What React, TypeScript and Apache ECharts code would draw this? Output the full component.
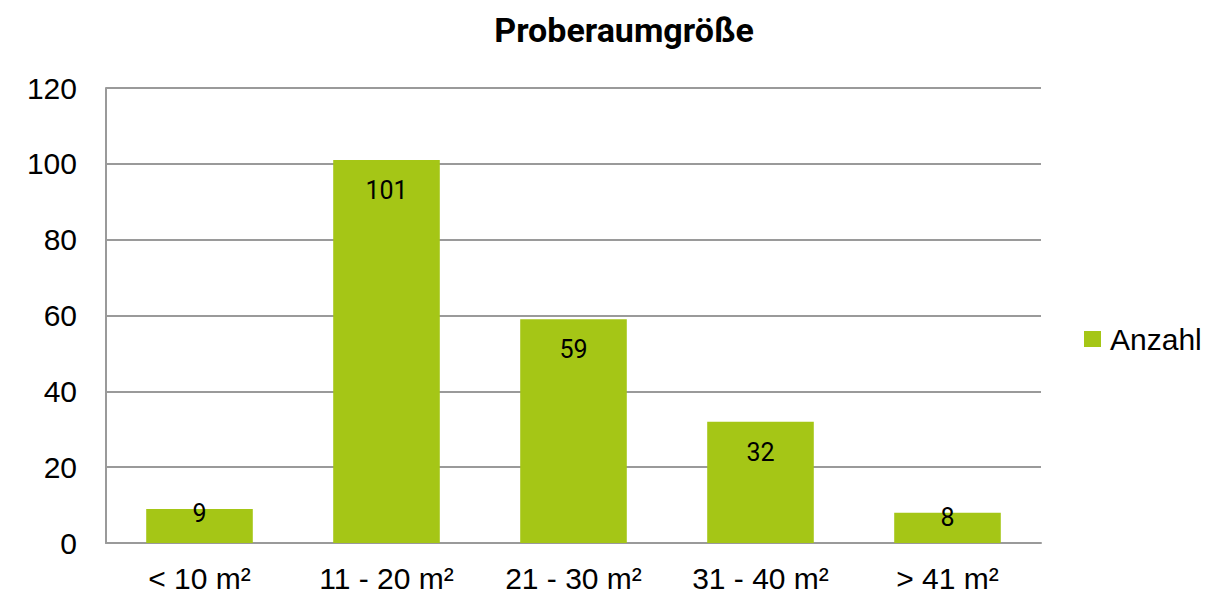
import React, { useEffect, useRef } from "react";
import * as echarts from "echarts";

const categories = ["< 10 m²", "11 - 20 m²", "21 - 30 m²", "31 - 40 m²", "> 41 m²"];
const anzahl = [9, 101, 59, 32, 8];
const seriesName = "Anzahl";
const titleText = "Proberaumgröße";

export default function App() {
  const ref = useRef<HTMLDivElement>(null);
  useEffect(() => {
    if (!ref.current) return;
    const chart = echarts.init(ref.current, null, { renderer: "svg" });
    const axisFont = "'Liberation Sans', Arial, sans-serif";
    const narrowFont = "Roboto, 'DejaVu Sans', sans-serif";
    chart.setOption({
      animation: false,
      backgroundColor: "#ffffff",
      title: {
        text: titleText,
        left: 619,
        textAlign: "center",
        top: 8,
        textStyle: {
          fontFamily: narrowFont,
          fontWeight: "bold",
          fontSize: 34,
          color: "#000000",
        },
      },
      legend: {
        orient: "vertical",
        left: 1079,
        top: 319,
        icon: "rect",
        itemWidth: 17,
        itemHeight: 16,
        textStyle: {
          fontFamily: axisFont,
          fontSize: 30,
          color: "#000000",
          padding: [0, 0, 0, 4],
        },
        data: [seriesName],
      },
      grid: {
        left: 106,
        right: 167,
        top: 88,
        bottom: 51,
        containLabel: false,
      },
      xAxis: {
        type: "category",
        data: categories,
        axisLine: { show: true, lineStyle: { color: "#9a9a9a", width: 2 } },
        axisTick: { show: false },
        axisLabel: {
          fontFamily: axisFont,
          fontSize: 30,
          color: "#000000",
          margin: 20,
        },
      },
      yAxis: {
        type: "value",
        min: 0,
        max: 120,
        interval: 20,
        axisLine: { show: true, lineStyle: { color: "#9a9a9a", width: 2 } },
        axisTick: { show: false },
        splitLine: { show: true, lineStyle: { color: "#9a9a9a", width: 2 } },
        axisLabel: {
          fontFamily: axisFont,
          fontSize: 30,
          color: "#000000",
          margin: 29,
        },
      },
      series: [
        {
          name: seriesName,
          type: "bar",
          barWidth: "57%",
          itemStyle: { color: "#a5c616" },
          data: anzahl.map((v) => ({
            value: v,
            label: { distance: v < 15 ? -8 : 18 },
          })),
          label: {
            show: true,
            position: "insideTop",
            fontFamily: narrowFont,
            fontSize: 25,
            color: "#000000",
          },
        },
      ],
    });
    return () => chart.dispose();
  }, []);
  return (
    <div
      ref={ref}
      style={{ position: "fixed", left: 0, top: 0, width: 1208, height: 594 }}
    />
  );
}
